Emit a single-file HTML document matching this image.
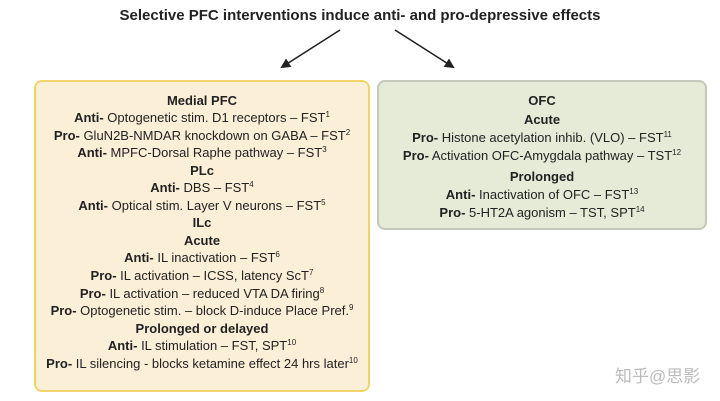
<!DOCTYPE html>
<html><head><meta charset="utf-8"><style>
body{margin:0;width:720px;height:401px;background:#fff;position:relative;overflow:hidden;font-family:"Liberation Sans",Arial,sans-serif;color:#222}
.t{position:absolute;left:0;width:720px;top:7px;text-align:center;font-weight:bold;font-size:15px}
.box{position:absolute;border-radius:8px;box-sizing:border-box}
.l{position:absolute;white-space:nowrap;font-size:13px;transform:translateX(-50%)}
.l b{font-weight:bold}
sup{font-size:8px;vertical-align:5px;line-height:0}
.h{font-weight:bold}
</style></head><body>
<div class="t">Selective PFC interventions induce anti- and pro-depressive effects</div>
<svg style="position:absolute;left:0;top:0" width="720" height="401">
<defs><marker id="a" markerWidth="10" markerHeight="10" refX="8" refY="5" orient="auto" markerUnits="userSpaceOnUse"><path d="M0,0 L10,5 L0,10 z" fill="#222"/></marker></defs>
<line x1="340" y1="30" x2="282" y2="67" stroke="#222" stroke-width="1.6" marker-end="url(#a)"/>
<line x1="395" y1="30" x2="453" y2="67" stroke="#222" stroke-width="1.6" marker-end="url(#a)"/>
</svg>
<div class="box" style="left:34px;top:80px;width:336px;height:312px;background:#fcefd8;border:2px solid #f2d36a"></div>
<div class="box" style="left:377px;top:80px;width:330px;height:150px;background:#e5ebd7;border:2px solid #c3c9b8"></div>
<div id="L"></div>
<script>
var L=[[101,'<span class="h">Medial PFC</span>'],
[118,'<b>Anti-</b> Optogenetic stim. D1 receptors – FST<sup>1</sup>'],
[136,'<b>Pro-</b> GluN2B-NMDAR knockdown on GABA – FST<sup>2</sup>'],
[153,'<b>Anti-</b> MPFC-Dorsal Raphe pathway – FST<sup>3</sup>'],
[171,'<span class="h">PLc</span>'],
[188,'<b>Anti-</b> DBS – FST<sup>4</sup>'],
[206,'<b>Anti-</b> Optical stim. Layer V neurons – FST<sup>5</sup>'],
[223,'<span class="h">ILc</span>'],
[241,'<span class="h">Acute</span>'],
[258,'<b>Anti-</b> IL inactivation – FST<sup>6</sup>'],
[276,'<b>Pro-</b> IL activation – ICSS, latency ScT<sup>7</sup>'],
[294,'<b>Pro-</b> IL activation – reduced VTA DA firing<sup>8</sup>'],
[311,'<b>Pro-</b> Optogenetic stim. – block D-induce Place Pref.<sup>9</sup>'],
[329,'<span class="h">Prolonged or delayed</span>'],
[346,'<b>Anti-</b> IL stimulation – FST, SPT<sup>10</sup>'],
[364,'<b>Pro-</b> IL silencing - blocks ketamine effect 24 hrs later<sup>10</sup>']];
var R=[[101,'<span class="h">OFC</span>'],
[120,'<span class="h">Acute</span>'],
[138,'<b>Pro-</b> Histone acetylation inhib. (VLO) – FST<sup>11</sup>'],
[156,'<b>Pro-</b> Activation OFC-Amygdala pathway – TST<sup>12</sup>'],
[177,'<span class="h">Prolonged</span>'],
[195,'<b>Anti-</b> Inactivation of OFC – FST<sup>13</sup>'],
[213,'<b>Pro-</b> 5-HT2A agonism – TST, SPT<sup>14</sup>']];
var h='';
L.forEach(function(a){h+='<div class="l" style="left:202px;top:'+(a[0]-8)+'px">'+a[1]+'</div>'});
R.forEach(function(a){h+='<div class="l" style="left:542px;top:'+(a[0]-8)+'px">'+a[1]+'</div>'});
document.getElementById('L').innerHTML=h;
</script>
<div style="position:absolute;left:615px;top:362px;font-size:17px;color:#bbb;font-family:'Liberation Sans','Noto Sans CJK SC',sans-serif">知乎@思影</div>
</body></html>
